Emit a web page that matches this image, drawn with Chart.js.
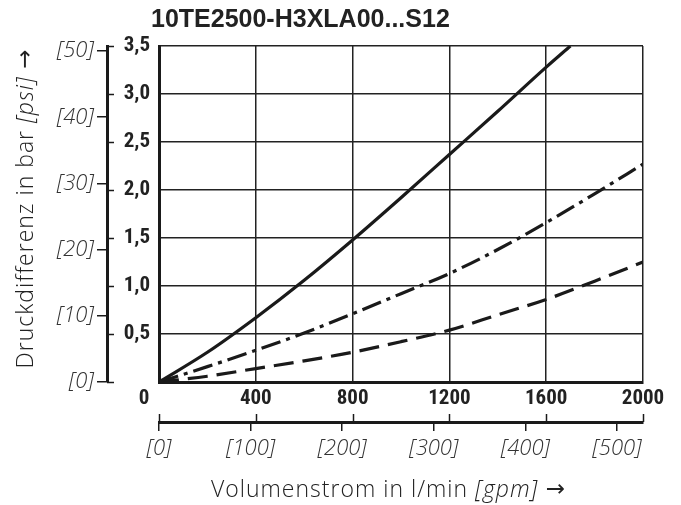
<!DOCTYPE html>
<html>
<head>
<meta charset="utf-8">
<script src="https://cdn.jsdelivr.net/npm/chart.js@4"></script>
<style>
  body { margin: 0; background: #fff; }
  #wrap { width: 681px; height: 505px; }
</style>
</head>
<body>
<div id="wrap"><canvas id="myChart" width="681" height="505"></canvas></div>
<script>
const chartTitle = '10TE2500-H3XLA00...S12';

// flow in l/min, pressure difference in bar
const flow = [0, 200, 400, 600, 800, 1000, 1200, 1400, 1600, 1800, 2000];
const flowSolid = [0, 200, 400, 600, 800, 1000, 1200, 1400, 1600, 1700];
const dpSolid = [0, 0.31, 0.67, 1.06, 1.48, 1.92, 2.37, 2.82, 3.28, 3.5];
const dpDashDot = [0, 0.16, 0.33, 0.51, 0.71, 0.92, 1.13, 1.38, 1.66, 1.96, 2.27];
const dpDashed = [0, 0.06, 0.14, 0.22, 0.31, 0.42, 0.54, 0.70, 0.86, 1.05, 1.25];

const barTicks = [0, 0.5, 1, 1.5, 2, 2.5, 3, 3.5];
const flowTicks = [0, 400, 800, 1200, 1600, 2000];
const psiTicks = [0, 10, 20, 30, 40, 50];
const gpmTicks = [0, 100, 200, 300, 400, 500];

const PSI_PER_BAR = 14.5038;
const LMIN_PER_GPM = 3.78541;

const boldFam = "'Liberation Sans Narrow', 'Roboto Condensed', Roboto, sans-serif";
const lightFam = "'Open Sans', 'Noto Sans', sans-serif";
const ink = '#1a1a1a';

const toPoints = (xs, ys) => xs.map((x, i) => ({ x: x, y: ys[i] }));
const setTicks = (list) => (scale) => { scale.ticks = list.map(v => ({ value: v })); };

function drawMixed(ctx, parts, x, y) {
  // parts: [text, font, spacing]; drawn centred on x
  const widthOf = p => { ctx.font = p[1]; ctx.letterSpacing = p[2]; return ctx.measureText(p[0]).width; };
  let total = 0;
  parts.forEach(p => { total += widthOf(p); });
  let cx = x - total / 2;
  ctx.textAlign = 'left';
  ctx.textBaseline = 'middle';
  parts.forEach(p => {
    const w = widthOf(p);
    ctx.fillText(p[0], cx, y);
    cx += w;
  });
  ctx.letterSpacing = '0px';
}

const extras = {
  id: 'extras',
  afterDraw(chart) {
    const ctx = chart.ctx;
    const xs = chart.scales.x, ys = chart.scales.y;
    const psi = chart.scales.psi, gpm = chart.scales.gpm;
    ctx.save();
    ctx.strokeStyle = ink;
    ctx.lineWidth = 1.5;

    // bar ticks on the right side of the outer axis line
    barTicks.forEach(v => {
      const py = Math.round(ys.getPixelForValue(v)) + 0.5;
      ctx.beginPath();
      ctx.moveTo(psi.right, py);
      ctx.lineTo(psi.right + 7, py);
      ctx.stroke();
    });

    // l/min ticks pointing up from the gpm axis line
    flowTicks.forEach(v => {
      const px = Math.round(xs.getPixelForValue(v)) + 0.5;
      ctx.beginPath();
      ctx.moveTo(px, gpm.top);
      ctx.lineTo(px, gpm.top - 8);
      ctx.stroke();
    });

    ctx.fillStyle = '#222';
    // shared origin label
    ctx.font = 'bold 21px ' + boldFam;
    ctx.textAlign = 'center';
    ctx.textBaseline = 'middle';
    ctx.fillText('0', xs.getPixelForValue(0) - 15, 399);

    // title
    ctx.font = 'bold 25px "Liberation Sans", Arial, sans-serif';
    ctx.textAlign = 'left';
    ctx.fillText(chartTitle, 151, 20);

    // axis titles
    ctx.fillStyle = '#222';
    const reg = '300 23px ' + lightFam;
    const ital = 'italic 300 23px ' + lightFam;
    const arrow = '23px "DejaVu Sans", sans-serif';
    drawMixed(ctx, [['Volumenstrom in l/min ', reg, '1px'], ['[gpm]', ital, '1px'], [' \u2192', arrow, '0px']], 388, 490);

    ctx.save();
    ctx.translate(26, 209);
    ctx.rotate(-Math.PI / 2);
    drawMixed(ctx, [['Druckdifferenz in bar ', reg, '1px'], ['[psi]', ital, '1px'], [' \u2192', arrow, '0px']], 0, 0);
    ctx.restore();

    ctx.restore();
  }
};

const ctx = document.getElementById('myChart');

new Chart(ctx, {
  type: 'line',
  data: {
    datasets: [{
      data: toPoints(flowSolid, dpSolid),
      borderColor: ink,
      borderWidth: 3.2,
      pointRadius: 0,
      cubicInterpolationMode: 'monotone',
    }, {
      data: toPoints(flow, dpDashDot),
      borderColor: ink,
      borderWidth: 3.2,
      borderDash: [20, 6, 4, 6],
      pointRadius: 0,
      cubicInterpolationMode: 'monotone',
    }, {
      data: toPoints(flow, dpDashed),
      borderColor: ink,
      borderWidth: 3.2,
      borderDash: [20, 9],
      pointRadius: 0,
      cubicInterpolationMode: 'monotone',
    }],
  },
  options: {
    responsive: false,
    animation: false,
    layout: { padding: { left: 0, top: 46, right: 38, bottom: 0 } },
    plugins: { legend: { display: false }, tooltip: { enabled: false } },
    scales: {
      x: {
        type: 'linear', position: 'bottom', min: 0, max: 2000, weight: 0,
        afterBuildTicks: setTicks(flowTicks),
        afterFit: s => { s.height = 40; },
        grid: { color: '#222', lineWidth: 1.5, drawTicks: false },
        border: { color: ink, width: 3 },
        ticks: {
          color: '#222', padding: 4, maxRotation: 0,
          font: { family: boldFam, size: 21, weight: 'bold' },
          callback: v => (v === 0 ? '' : String(v)),
        },
      },
      gpm: {
        type: 'linear', position: 'bottom', min: 0, max: 2000 / LMIN_PER_GPM, weight: 1,
        afterBuildTicks: setTicks(gpmTicks),
        afterFit: s => { s.height = 83; },
        grid: { drawOnChartArea: false, color: ink, lineWidth: 1.5, tickLength: 9 },
        border: { color: ink, width: 3 },
        ticks: {
          color: '#333', padding: 5, maxRotation: 0,
          font: { family: lightFam, size: 22, style: 'italic', weight: 300 },
          callback: v => '[' + v + ']',
        },
      },
      y: {
        type: 'linear', position: 'left', min: 0, max: 3.5, weight: 0,
        afterBuildTicks: setTicks(barTicks),
        afterFit: s => { s.width = 52; },
        grid: { color: '#222', lineWidth: 1.5, drawTicks: false },
        border: { color: ink, width: 3 },
        ticks: {
          color: '#222', padding: 9,
          font: { family: boldFam, size: 21, weight: 'bold' },
          callback: v => (v === 0 ? '' : v.toFixed(1).replace('.', ',')),
        },
      },
      psi: {
        type: 'linear', position: 'left', min: 0, max: 3.5 * PSI_PER_BAR, weight: 1,
        afterBuildTicks: setTicks(psiTicks),
        afterFit: s => { s.width = 107; },
        grid: { drawOnChartArea: false, color: ink, lineWidth: 1.5, tickLength: 10 },
        border: { color: ink, width: 3 },
        ticks: {
          color: '#333', padding: 3,
          font: { family: lightFam, size: 22, style: 'italic', weight: 300 },
          callback: v => '[' + v + ']',
        },
      },
    },
  },
  plugins: [extras],
});
</script>
</body>
</html>
